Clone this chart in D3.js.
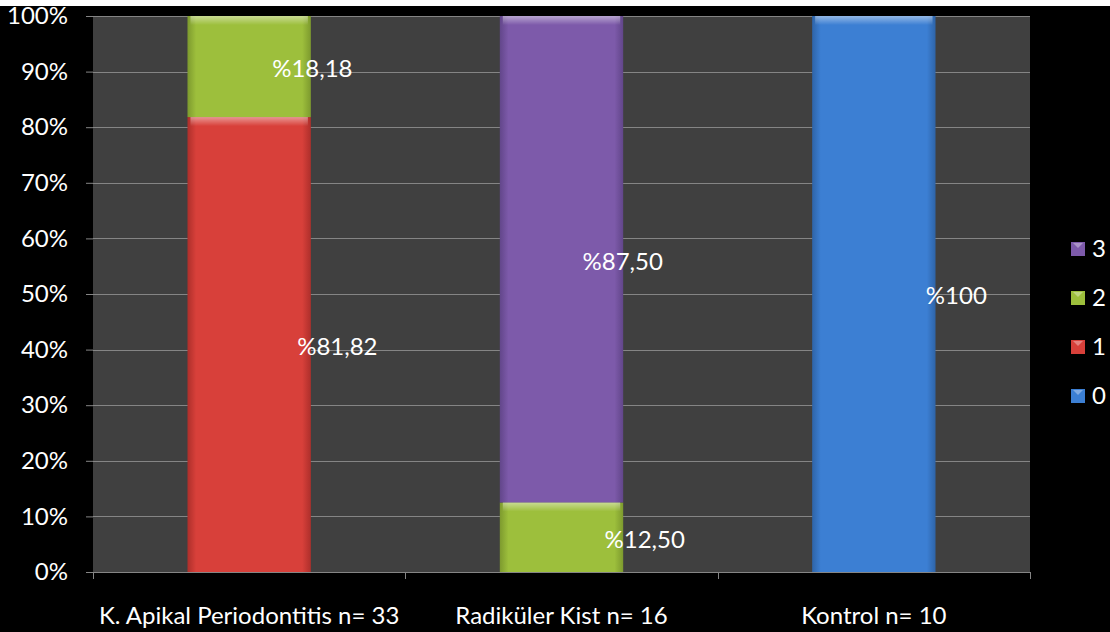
<!DOCTYPE html>
<html><head><meta charset="utf-8">
<script src="https://cdn.jsdelivr.net/npm/d3@7"></script>
<style>
html,body{margin:0;padding:0;background:#000;}
svg{display:block;}
</style></head>
<body>
<svg id="c" width="1110" height="632"></svg>
<script>
const categories = ["K. Apikal Periodontitis n= 33", "Radiküler Kist n= 16", "Kontrol n= 10"];
const seriesKeys = ["0", "1", "2", "3"];
const series0 = [0, 0, 100];
const series1 = [81.82, 0, 0];
const series2 = [18.18, 12.5, 0];
const series3 = [0, 87.5, 0];
const yTicks = [0, 10, 20, 30, 40, 50, 60, 70, 80, 90, 100];

(function(){
const seriesValues = [series0, series1, series2, series3];
const colors = {"0": "#3c7fd3", "1": "#d8403a", "2": "#9dbf3c", "3": "#7d5aaa"};
const darkColors = {"0": "#2e64a8", "1": "#ad2f2b", "2": "#7d9a2e", "3": "#62468a"};
// label horizontal offsets from bar centre (series key -> per category)
const labelDx = {"0": [0,0,52], "1": [48,0,0], "2": [23,43,0], "3": [0,21,0]};
const FONT = "Lato, 'Open Sans', sans-serif";
const FS = 24;

const rows = categories.map((c, i) => {
  const r = {cat: c};
  seriesKeys.forEach((k, j) => r[k] = seriesValues[j][i]);
  return r;
});

const svg = d3.select("#c");
svg.append("rect").attr("x",0).attr("y",0).attr("width",1110).attr("height",6).attr("fill","#fff");

const pL = 93, pR = 1030, pT = 16, pB = 572;
const x = d3.scaleBand().domain(categories).range([pL, pR]).padding(0);
const y = d3.scaleLinear().domain([0, 100]).range([pB, pT]);
const barW = x.bandwidth() * 0.395;

svg.append("rect").attr("x", pL).attr("y", pT).attr("width", pR-pL).attr("height", pB-pT).attr("fill", "#404040");

// gridlines
svg.append("g").selectAll("line").data(yTicks.filter(t => t > 0)).join("line")
  .attr("x1", pL).attr("x2", pR)
  .attr("y1", d => Math.round(y(d)) + 0.5).attr("y2", d => Math.round(y(d)) + 0.5)
  .attr("stroke", "#858585").attr("stroke-width", 1);

// y axis
const yAxis = d3.axisLeft(y).tickValues(yTicks).tickFormat(d => d + "%").tickSize(7).tickPadding(18);
const ya = svg.append("g").attr("transform", `translate(${pL},0)`).call(yAxis);
ya.select(".domain").remove();
ya.selectAll(".tick line").attr("stroke", "#858585");
ya.selectAll("text").attr("fill", "#fff").attr("font-family", FONT).attr("font-size", FS);

// x axis
const xa = svg.append("g").attr("transform", `translate(0,${pB})`);
xa.append("line").attr("x1", pL).attr("x2", pR).attr("y1", 0.5).attr("y2", 0.5).attr("stroke", "#858585");
const bounds = [pL, ...categories.map(c => x(c) + x.bandwidth())];
xa.selectAll("line.tk").data(bounds).join("line").attr("class","tk")
  .attr("x1", d => Math.round(d)+0.5).attr("x2", d => Math.round(d)+0.5).attr("y1", 0).attr("y2", 7).attr("stroke", "#858585");
xa.selectAll("text").data(categories).join("text")
  .attr("x", d => x(d) + x.bandwidth()/2).attr("y", 52)
  .attr("text-anchor", "middle").attr("fill", "#fff")
  .attr("font-family", FONT).attr("font-size", FS)
  .text(d => d);

// gradients
const defs = svg.append("defs");
seriesKeys.forEach(k => {
  const g = defs.append("linearGradient").attr("id", "g" + k).attr("x1", "0").attr("x2", "1").attr("y1","0").attr("y2","0");
  g.append("stop").attr("offset", "0").attr("stop-color", darkColors[k]);
  g.append("stop").attr("offset", "0.07").attr("stop-color", colors[k]);
  g.append("stop").attr("offset", "0.93").attr("stop-color", colors[k]);
  g.append("stop").attr("offset", "1").attr("stop-color", darkColors[k]);
});
const hl = defs.append("linearGradient").attr("id", "hl").attr("x1","0").attr("x2","0").attr("y1","0").attr("y2","1");
hl.append("stop").attr("offset","0").attr("stop-color","#fff").attr("stop-opacity",0.45);
hl.append("stop").attr("offset","1").attr("stop-color","#fff").attr("stop-opacity",0);

const stack = d3.stack().keys(seriesKeys)(rows);
const segs = [];
stack.forEach(s => s.forEach((d, i) => {
  if (d[1] - d[0] > 0) segs.push({key: s.key, i, y0: d[0], y1: d[1], v: d[1]-d[0], cat: categories[i]});
}));

const bars = svg.append("g");
bars.selectAll("rect.seg").data(segs).join("rect").attr("class","seg")
  .attr("x", d => x(d.cat) + (x.bandwidth()-barW)/2)
  .attr("y", d => y(d.y1)).attr("width", barW).attr("height", d => y(d.y0) - y(d.y1))
  .attr("fill", d => `url(#g${d.key})`);
bars.selectAll("rect.hl").data(segs).join("rect").attr("class","hl")
  .attr("x", d => x(d.cat) + (x.bandwidth()-barW)/2 + 3)
  .attr("y", d => y(d.y1)).attr("width", barW - 6).attr("height", 9)
  .attr("fill", "url(#hl)");

const fmt = v => v === 100 ? "%100" : "%" + v.toFixed(2).replace(".", ",");
svg.append("g").selectAll("text").data(segs).join("text")
  .attr("x", d => x(d.cat) + x.bandwidth()/2 + labelDx[d.key][d.i])
  .attr("y", d => y((d.y0 + d.y1)/2) + 2)
  .attr("dy", "0.35em")
  .attr("fill", "#fff").attr("font-family", FONT).attr("font-size", FS)
  .text(d => fmt(d.v));

// legend
const legendKeys = ["3", "2", "1", "0"];
const lg = svg.append("g").selectAll("g").data(legendKeys).join("g")
  .attr("transform", (d, i) => `translate(1071,${249 + i*49})`);
lg.append("rect").attr("x", 0).attr("y", -7).attr("width", 14).attr("height", 14).attr("fill", d => colors[d]);
lg.append("path").attr("d", "M2,-6 L12,-6 L7,-1 Z").attr("fill", "#fff").attr("opacity", 0.35);
lg.append("text").attr("x", 21).attr("y", 0).attr("dy", "0.35em").attr("fill", "#fff")
  .attr("font-family", FONT).attr("font-size", FS).text(d => d);
})();
</script>
</body></html>
